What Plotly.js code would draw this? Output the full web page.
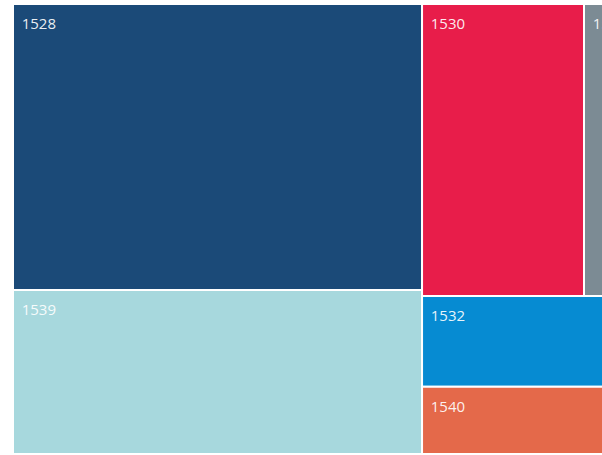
<!DOCTYPE html>
<html>
<head>
<meta charset="utf-8">
<script src="https://cdn.plot.ly/plotly-3.0.1.min.js"></script>
<style>
  html, body { margin: 0; padding: 0; background: #ffffff; overflow: hidden; }
  #chart { width: 700px; height: 455px; }
</style>
</head>
<body>
<div id="chart"></div>
<script>
// Data (tile areas, relative units)
const categories = ["1528", "1539", "1530", "1531", "1532", "1540"];
const values = [117.0, 67.1, 47.3, 29.2, 23.8, 17.6];
const colors = ["#1B4A78", "#A7D8DD", "#E81D4A", "#7C8B94", "#068BD2", "#E4694A"];

const labelTemplate =
  "<span style='font-size:9px'>\u00a0</span><br>" +
  "<span style='font-size:11px'>\u00a0\u00a0</span>" +
  "<span style='font-size:15px'>%{label}</span>";

const trace = {
  type: "treemap",
  labels: categories,
  parents: categories.map(() => ""),
  values: values,
  sort: true,
  texttemplate: labelTemplate,
  textposition: "top left",
  textfont: { family: "Open Sans, Noto Sans, sans-serif", size: 9, color: "rgba(255,255,255,0.92)" },
  marker: {
    colors: colors,
    line: { width: 2, color: "#ffffff" },
    pad: { t: 0, l: 0, r: 0, b: 0 }
  },
  tiling: { packing: "squarify", squarifyratio: 2.5, pad: 0 },
  pathbar: { visible: false },
  hoverinfo: "label+value"
};

const layout = {
  width: 700,
  height: 455,
  margin: { l: 13, r: 16, t: 4, b: 1 },
  paper_bgcolor: "#ffffff",
  showlegend: false
};

Plotly.newPlot("chart", [trace], layout, { displayModeBar: false, responsive: false, staticPlot: true });
</script>
</body>
</html>
